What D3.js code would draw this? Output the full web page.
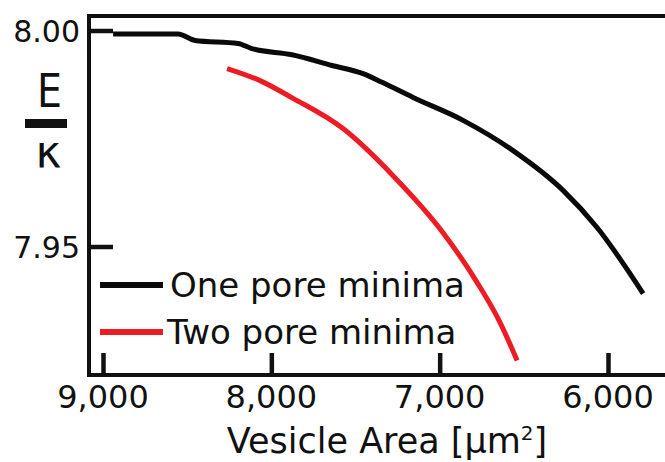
<!DOCTYPE html>
<html>
<head>
<meta charset="utf-8">
<script src="https://cdn.jsdelivr.net/npm/d3@7"></script>
<style>
  html, body { margin: 0; padding: 0; background: #fff; }
  svg { display: block; }
  text { font-family: "DejaVu Sans", sans-serif; fill: #111; }
</style>
</head>
<body>
<svg id="chart" width="665" height="462"></svg>
<script>
// ---- data ----
const onePoreArea   = [8940, 8554, 8453, 8198, 8115, 7877, 7639, 7455, 7342, 7158, 6861, 6564, 6267, 6065, 5791];
const onePoreEnergy = [7.9992, 7.9992, 7.9977, 7.9970, 7.9958, 7.9944, 7.9919, 7.9900, 7.9880, 7.9845, 7.9792, 7.9722, 7.9630, 7.9544, 7.9391];
const twoPoreArea   = [8263, 8067, 7871, 7574, 7277, 6980, 6778, 6641, 6540];
const twoPoreEnergy = [7.9912, 7.9884, 7.9843, 7.9773, 7.9664, 7.9532, 7.9417, 7.9324, 7.9236];
const xTicks = [9000, 8000, 7000, 6000];
const yTicks = [8.00, 7.95];
const seriesNames = ["One pore minima", "Two pore minima"];
const seriesColors = ["#0a0a0a", "#ed1c24"];

// ---- layout ----
const svg = d3.select("#chart");
const frame = { left: 89, top: 16, bottom: 375, right: 665 };
const x = d3.scaleLinear().domain([9000, 6000]).range([103, 608]);
const y = d3.scaleLinear().domain([8.00, 7.95]).range([30.5, 246.5]);

// frame lines
svg.append("line").attr("x1", frame.left).attr("x2", frame.right)
  .attr("y1", frame.top).attr("y2", frame.top)
  .attr("stroke", "#111").attr("stroke-width", 4);
svg.append("line").attr("x1", frame.left).attr("x2", frame.right)
  .attr("y1", frame.bottom).attr("y2", frame.bottom)
  .attr("stroke", "#111").attr("stroke-width", 4);
svg.append("line").attr("x1", frame.left).attr("x2", frame.left)
  .attr("y1", frame.top - 2).attr("y2", frame.bottom + 2)
  .attr("stroke", "#111").attr("stroke-width", 4);

// x axis (ticks pointing inward)
const xAxis = d3.axisBottom(x).tickValues(xTicks).tickSizeInner(-22).tickSizeOuter(0)
  .tickFormat(d3.format(","));
const gx = svg.append("g").attr("transform", `translate(0,${frame.bottom})`).call(xAxis);
gx.select(".domain").remove();
gx.selectAll(".tick line").attr("stroke", "#111").attr("stroke-width", 4.5);
gx.selectAll(".tick text").remove();
svg.append("g").selectAll("text").data(xTicks).join("text")
  .attr("x", d => x(d)).attr("y", 408)
  .attr("text-anchor", "middle").attr("font-size", 32)
  .text(d => d3.format(",")(d));

// y axis (ticks pointing inward)
const yAxis = d3.axisLeft(y).tickValues(yTicks).tickSizeInner(-24).tickSizeOuter(0)
  .tickFormat(d3.format(".2f"));
const gy = svg.append("g").attr("transform", `translate(${frame.left},0)`).call(yAxis);
gy.select(".domain").remove();
gy.selectAll(".tick line").attr("stroke", "#111").attr("stroke-width", 4.5);
gy.selectAll(".tick text").remove();
svg.append("g").selectAll("text").data(yTicks).join("text")
  .attr("x", 80).attr("y", d => y(d) + 11)
  .attr("text-anchor", "end").attr("font-size", 30)
  .text(d => d3.format(".2f")(d));

// y axis title: E over kappa
svg.append("text").attr("x", 49.5).attr("y", 107).attr("text-anchor", "middle")
  .attr("font-size", 46).attr("transform", "translate(49.5,0) scale(0.86,1) translate(-49.5,0)")
  .text("E");
svg.append("line").attr("x1", 25).attr("x2", 67).attr("y1", 123.5).attr("y2", 123.5)
  .attr("stroke", "#111").attr("stroke-width", 9);
svg.append("text").attr("x", 48.5).attr("y", 167).attr("text-anchor", "middle")
  .attr("font-size", 44).text("κ");

// x axis title
const xt = svg.append("text").attr("x", 387).attr("y", 453).attr("text-anchor", "middle")
  .attr("font-size", 35);
xt.append("tspan").text("Vesicle Area [μm");
xt.append("tspan").attr("font-size", 20).attr("dy", -13).text("2");
xt.append("tspan").attr("dy", 13).text("]");

// curves
const line = d3.line().x(d => x(d[0])).y(d => y(d[1])).curve(d3.curveMonotoneX);
const series = [
  d3.zip(onePoreArea, onePoreEnergy),
  d3.zip(twoPoreArea, twoPoreEnergy)
];
svg.append("g").selectAll("path").data(series).join("path")
  .attr("d", line).attr("fill", "none")
  .attr("stroke", (d, i) => seriesColors[i]).attr("stroke-width", 5)
  .attr("stroke-linejoin", "round");

// legend
const legendY = [285, 332];
const lg = svg.append("g").selectAll("g").data(seriesNames).join("g");
lg.append("line").attr("x1", 100).attr("x2", 163)
  .attr("y1", (d, i) => legendY[i]).attr("y2", (d, i) => legendY[i])
  .attr("stroke", (d, i) => seriesColors[i]).attr("stroke-width", 6);
lg.append("text").attr("x", (d, i) => i === 0 ? 170 : 167)
  .attr("y", (d, i) => legendY[i] + 12)
  .attr("font-size", 34).text(d => d);
</script>
</body>
</html>
